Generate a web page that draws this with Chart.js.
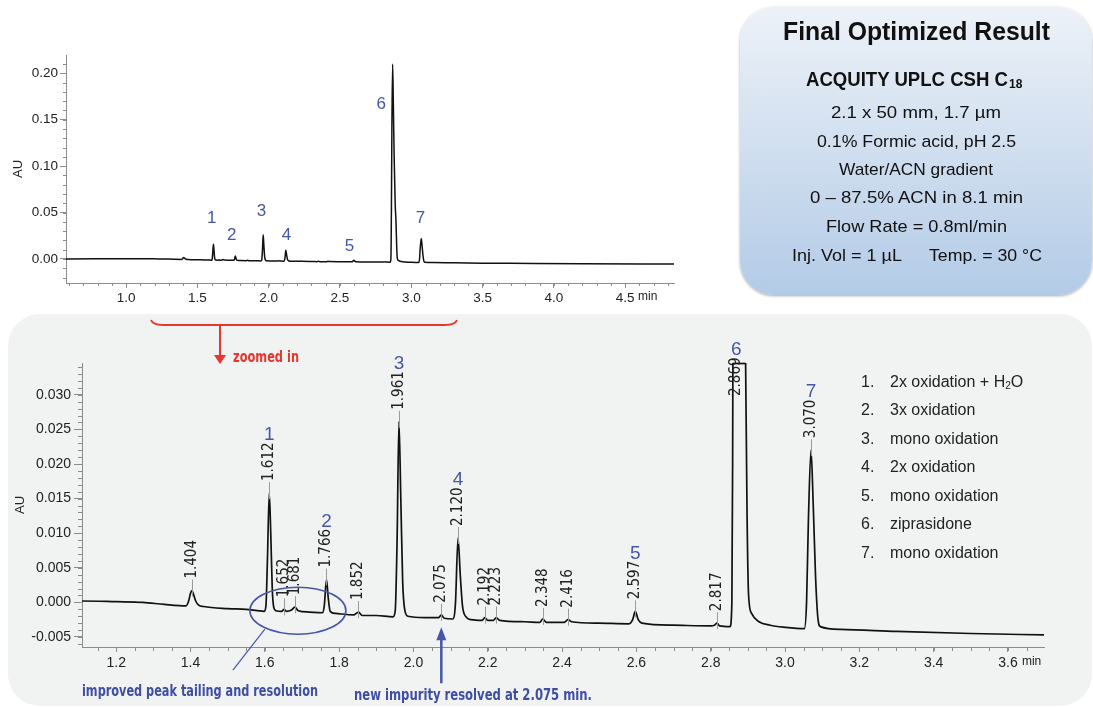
<!DOCTYPE html>
<html>
<head>
<meta charset="utf-8">
<script src="https://cdn.jsdelivr.net/npm/chart.js@4.4.1/dist/chart.umd.min.js"></script>
<style>
body { margin: 0; background: #fff; width: 1093px; height: 708px; overflow: hidden; position: relative; font-family: "Liberation Sans", Arial, sans-serif; }
#panel { position: absolute; left: 8px; top: 314px; width: 1084px; height: 392px; background: #f1f2f2; border-radius: 32px; }
#box { position: absolute; left: 740px; top: 7px; width: 352px; height: 288px; border-radius: 34px; background: linear-gradient(#edf2f8, #b3cbe7); box-shadow: 0 1px 3px rgba(0,0,0,.35); }
.wrap { position: absolute; }
#notes { position: absolute; left: 0; top: 0; }
</style>
</head>
<body>
<div id="panel"></div>
<div id="box"></div>
<div class="wrap" style="left:0;top:40px;width:690px;height:275px"><canvas id="topChart"></canvas></div>
<div class="wrap" style="left:0;top:340px;width:1093px;height:368px"><canvas id="zoomChart"></canvas></div>

<svg id="notes" width="1093" height="708">
  <!-- info box -->
  <g fill="#111" font-family="Liberation Sans, Arial, sans-serif">
    <text x="783" y="40" font-size="25" font-weight="bold" textLength="267" lengthAdjust="spacingAndGlyphs">Final Optimized Result</text>
    <text x="806" y="86" font-size="20" font-weight="bold" textLength="202" lengthAdjust="spacingAndGlyphs">ACQUITY UPLC CSH C</text>
    <text x="1009" y="88" font-size="12" font-weight="bold">18</text>
    <text x="831" y="118" font-size="17" textLength="170" lengthAdjust="spacingAndGlyphs">2.1 x 50 mm, 1.7 µm</text>
    <text x="817" y="147" font-size="17" textLength="199" lengthAdjust="spacingAndGlyphs">0.1% Formic acid, pH 2.5</text>
    <text x="839" y="175" font-size="17" textLength="154" lengthAdjust="spacingAndGlyphs">Water/ACN gradient</text>
    <text x="810" y="203" font-size="17" textLength="213" lengthAdjust="spacingAndGlyphs">0 – 87.5% ACN in 8.1 min</text>
    <text x="826" y="232" font-size="17" textLength="181" lengthAdjust="spacingAndGlyphs">Flow Rate = 0.8ml/min</text>
    <text x="792" y="261" font-size="17" textLength="110" lengthAdjust="spacingAndGlyphs">Inj. Vol = 1 µL</text>
    <text x="929" y="261" font-size="17" textLength="113" lengthAdjust="spacingAndGlyphs">Temp. = 30 °C</text>
  </g>
  <!-- zoom bracket -->
  <path d="M151,320 Q153,325 163,325 L445,325 Q455,325 457,320" fill="none" stroke="#e8352e" stroke-width="2"/>
  <line x1="220" y1="325" x2="220" y2="356" stroke="#e8352e" stroke-width="2"/>
  <polygon points="214,355 226,355 220,364" fill="#e8352e"/>
  <text x="233" y="362" fill="#e8352e" font-size="15" font-weight="bold" font-family="Liberation Sans Narrow, DejaVu Sans Condensed, sans-serif" textLength="66" lengthAdjust="spacingAndGlyphs">zoomed in</text>
  <!-- legend -->
  <g fill="#222" font-size="16" font-family="Liberation Sans, Arial, sans-serif">
    <text x="861" y="387">1.</text><text x="890" y="387">2x oxidation + H<tspan font-size="10" dy="2">2</tspan><tspan dy="-2">O</tspan></text>
    <text x="861" y="415">2.</text><text x="890" y="415">3x oxidation</text>
    <text x="861" y="444">3.</text><text x="890" y="444">mono oxidation</text>
    <text x="861" y="472">4.</text><text x="890" y="472">2x oxidation</text>
    <text x="861" y="501">5.</text><text x="890" y="501">mono oxidation</text>
    <text x="861" y="529">6.</text><text x="890" y="529">ziprasidone</text>
    <text x="861" y="558">7.</text><text x="890" y="558">mono oxidation</text>
  </g>
  <!-- notes -->
  <g fill="#3d4ea3" font-size="16" font-weight="bold" font-family="Liberation Sans Narrow, DejaVu Sans Condensed, sans-serif">
    <text x="82" y="696" textLength="236" lengthAdjust="spacingAndGlyphs">improved peak tailing and resolution</text>
    <text x="354" y="700" textLength="238" lengthAdjust="spacingAndGlyphs">new impurity resolved at 2.075 min.</text>
  </g>
</svg>

<script>
// chromatogram trace (minutes, AU)
const timeMin = [0.578, 0.80, 1.00, 1.108, 1.20, 1.272, 1.33, 1.388, 1.395, 1.400, 1.404, 1.408, 1.414, 1.422, 1.435,
  1.50, 1.55, 1.58, 1.598, 1.603, 1.607, 1.612, 1.616, 1.620, 1.624, 1.630, 1.645, 1.652, 1.658, 1.672, 1.681, 1.690,
  1.720, 1.755, 1.760, 1.766, 1.771, 1.776, 1.790, 1.840, 1.852, 1.862, 1.900, 1.945, 1.951, 1.956, 1.961, 1.966,
  1.971, 1.977, 1.985, 2.030, 2.068, 2.075, 2.083, 2.106, 2.113, 2.120, 2.126, 2.132, 2.140, 2.155, 2.185, 2.192,
  2.200, 2.215, 2.223, 2.232, 2.300, 2.340, 2.348, 2.358, 2.405, 2.416, 2.425, 2.500, 2.580, 2.590, 2.597, 2.605,
  2.615, 2.700, 2.800, 2.810, 2.817, 2.824, 2.852, 2.857, 2.859, 2.861, 2.864, 2.869, 2.874, 2.880, 2.887, 2.893,
  2.898, 2.902, 2.910, 2.930, 2.960, 3.000, 3.052, 3.058, 3.063, 3.070, 3.076, 3.082, 3.088, 3.095, 3.150, 3.300,
  3.500, 3.697, 4.200, 4.843];
const absAU = [0.0000, 0.0001, 0.0002, 0.0002, 0.0001, 0.0000, -0.0003, -0.0005, 0.0002, 0.0013, 0.0017, 0.0012, 0.0002, -0.0004, -0.0006,
  -0.0009, -0.0010, -0.0012, -0.0013, -0.0005, 0.0060, 0.0158, 0.0100, 0.0020, -0.0007, -0.0012, -0.0013, -0.0010, -0.0013, -0.0011, -0.0007, -0.0012,
  -0.0014, -0.0015, -0.0005, 0.0033, 0.0005, -0.0013, -0.0016, -0.0018, -0.0014, -0.0019, -0.0019, -0.0021, -0.0012, 0.0090, 0.0261, 0.0150,
  0.0030, -0.0012, -0.0020, -0.0022, -0.0022, -0.0018, -0.0023, -0.0024, -0.0002, 0.0093, 0.0040, -0.0005, -0.0020, -0.0025, -0.0026, -0.0022,
  -0.0026, -0.0026, -0.0022, -0.0026, -0.0028, -0.0029, -0.0024, -0.0029, -0.0029, -0.0025, -0.0028, -0.0030, -0.0031, -0.0025, -0.0013, -0.0025,
  -0.0030, -0.0033, -0.0034, -0.0033, -0.0030, -0.0034, -0.0035, 0.0000, 0.0200, 0.0600, 0.1400, 0.2100, 0.1700, 0.1100, 0.0600, 0.0400,
  0.0120, 0.0010, -0.0016, -0.0028, -0.0033, -0.0036, -0.0038, 0.0000, 0.0120, 0.0220, 0.0140, 0.0040, -0.0020, -0.0035, -0.0039, -0.0042,
  -0.0045, -0.0047, -0.0052, -0.0055];

// labelled retention times
const rtTimes = [1.404, 1.612, 1.652, 1.681, 1.766, 1.852, 1.961, 2.075, 2.120, 2.192, 2.223, 2.348, 2.416, 2.597, 2.817, 2.869, 3.070];
const peakNums = ['1', '2', '3', '4', '5', '6', '7'];
const peakTimes = [1.612, 1.766, 1.961, 2.120, 2.597, 2.869, 3.070];
// peak numbers on the full view
const topNumTime = [1.60, 1.74, 1.95, 2.125, 2.566, 2.79, 3.064];
const topNumAU = [0.044, 0.025, 0.051, 0.026, 0.014, 0.167, 0.044];

// tick labels
const topXTicks = [1.0, 1.5, 2.0, 2.5, 3.0, 3.5, 4.0, 4.5];
const topYTicks = [0.00, 0.05, 0.10, 0.15, 0.20];
const zoomXTicks = [1.2, 1.4, 1.6, 1.8, 2.0, 2.2, 2.4, 2.6, 2.8, 3.0, 3.2, 3.4, 3.6];
const zoomYTicks = [-0.005, 0.000, 0.005, 0.010, 0.015, 0.020, 0.025, 0.030];

const trace = timeMin.map(function (t, i) { return { x: t, y: absAU[i] }; });

function auAt(t) {
  let best = 0;
  timeMin.forEach(function (v, i) { if (Math.abs(v - t) < Math.abs(timeMin[best] - t)) best = i; });
  return absAU[best];
}

Chart.defaults.font.family = '"Liberation Sans", Arial, sans-serif';
Chart.defaults.color = '#222';

function linAxis(min, max, tickVals, digits, size, tickLen, pad, fit) {
  return {
    type: 'linear', min: min, max: max,
    afterBuildTicks: function (s) { s.ticks = tickVals.map(function (v) { return { value: v }; }); },
    afterFit: fit,
    ticks: { autoSkip: false, maxRotation: 0, padding: pad, color: '#222', font: { size: size },
      callback: function (v) { return Number(v).toFixed(digits); } },
    grid: { drawOnChartArea: false, tickLength: tickLen, color: '#8c8c8c' },
    border: { color: '#8c8c8c' }
  };
}

function minorTicks(chart, xs, ys, len) {
  const ctx = chart.ctx, a = chart.chartArea, x = chart.scales.x, y = chart.scales.y;
  ctx.strokeStyle = '#8c8c8c';
  ctx.lineWidth = 1;
  ctx.beginPath();
  for (let v = Math.ceil(x.min / xs) * xs; v <= x.max; v += xs) {
    const px = Math.round(x.getPixelForValue(v)) + 0.5;
    ctx.moveTo(px, a.bottom); ctx.lineTo(px, a.bottom + len);
  }
  for (let v = Math.ceil(y.min / ys) * ys; v <= y.max; v += ys) {
    const py = Math.round(y.getPixelForValue(v)) + 0.5;
    ctx.moveTo(a.left, py); ctx.lineTo(a.left - len, py);
  }
  ctx.stroke();
}

// where the trace leaves the top of the plot, draw the off-scale flat top like the instrument does
function offScaleTops(chart) {
  const ctx = chart.ctx, a = chart.chartArea, x = chart.scales.x, y = chart.scales.y;
  let up = null;
  ctx.strokeStyle = '#111';
  ctx.lineWidth = 1.7;
  for (let i = 1; i < timeMin.length; i++) {
    const y0 = absAU[i - 1], y1 = absAU[i];
    const tc = timeMin[i - 1] + (y.max - y0) / (y1 - y0) * (timeMin[i] - timeMin[i - 1]);
    if (y0 < y.max && y1 >= y.max) up = tc;
    if (y0 >= y.max && y1 < y.max && up !== null) {
      ctx.beginPath();
      ctx.moveTo(x.getPixelForValue(up), a.top + 0.5);
      ctx.lineTo(x.getPixelForValue(tc), a.top + 0.5);
      ctx.stroke();
      up = null;
    }
  }
}

const topDecor = {
  id: 'topDecor',
  afterDraw: function (chart) {
    const ctx = chart.ctx, a = chart.chartArea, x = chart.scales.x, y = chart.scales.y;
    ctx.save();
    minorTicks(chart, 0.1, 0.01, 3);
    ctx.fillStyle = '#222';
    ctx.font = '12px "Liberation Sans", Arial, sans-serif';
    ctx.textBaseline = 'middle';
    ctx.fillText('min', x.getPixelForValue(4.5) + 13, a.bottom + 14);
    ctx.fillStyle = '#4656a8';
    ctx.font = '17px "Liberation Sans", Arial, sans-serif';
    ctx.textAlign = 'center';
    topNumTime.forEach(function (t, i) {
      ctx.fillText(peakNums[i], x.getPixelForValue(t), y.getPixelForValue(topNumAU[i]));
    });
    ctx.restore();
  }
};

const zoomDecor = {
  id: 'zoomDecor',
  afterDraw: function (chart) {
    const ctx = chart.ctx, a = chart.chartArea, x = chart.scales.x, y = chart.scales.y;
    ctx.save();
    minorTicks(chart, 0.05, 0.001, 4);
    offScaleTops(chart);
    ctx.fillStyle = '#222';
    ctx.font = '12px "Liberation Sans", Arial, sans-serif';
    ctx.textBaseline = 'middle';
    ctx.fillText('min', x.getPixelForValue(3.6) + 14, a.bottom + 15);

    // retention time labels
    ctx.font = '15px "Liberation Sans Narrow", "DejaVu Sans Condensed", sans-serif';
    rtTimes.forEach(function (t) {
      const px = x.getPixelForValue(t);
      const py = y.getPixelForValue(auAt(t));
      const clipped = py < a.top;
      const ty = clipped ? a.top + 34 : py - 11;
      if (!clipped) {
        ctx.strokeStyle = '#9a9a9a';
        ctx.lineWidth = 1;
        ctx.beginPath();
        ctx.moveTo(Math.round(px) + 0.5, ty);
        ctx.lineTo(Math.round(px) + 0.5, py + 6);
        ctx.stroke();
      }
      ctx.save();
      ctx.translate(px, ty);
      ctx.rotate(-Math.PI / 2);
      ctx.textAlign = 'left';
      ctx.fillStyle = '#222';
      ctx.fillText(t.toFixed(3), 1, 0);
      ctx.restore();
    });

    // peak numbers
    ctx.fillStyle = '#4656a8';
    ctx.font = '19px "Liberation Sans", Arial, sans-serif';
    ctx.textAlign = 'center';
    peakTimes.forEach(function (t, i) {
      const py = y.getPixelForValue(auAt(t));
      ctx.fillText(peakNums[i], x.getPixelForValue(t), py < a.top ? a.top - 13 : py - 58);
    });

    // ellipse around 1.65-1.72 and the 2.075 arrow
    const cx = x.getPixelForValue(1.689), cy = y.getPixelForValue(-0.0012);
    ctx.strokeStyle = '#4656a8';
    ctx.lineWidth = 1.6;
    ctx.beginPath();
    ctx.ellipse(cx, cy, 48, 23.5, 0, 0, Math.PI * 2);
    ctx.stroke();
    ctx.lineWidth = 1.2;
    ctx.beginPath();
    ctx.moveTo(cx - 33, cy + 18.5);
    ctx.lineTo(cx - 65, cy + 59.5);
    ctx.stroke();

    const ax = x.getPixelForValue(2.075), tip = y.getPixelForValue(-0.0036);
    ctx.lineWidth = 2.5;
    ctx.beginPath();
    ctx.moveTo(ax, tip + 10);
    ctx.lineTo(ax, tip + 56);
    ctx.stroke();
    ctx.fillStyle = '#4656a8';
    ctx.beginPath();
    ctx.moveTo(ax, tip);
    ctx.lineTo(ax - 5, tip + 13);
    ctx.lineTo(ax + 5, tip + 13);
    ctx.closePath();
    ctx.fill();
    ctx.restore();
  }
};

new Chart(document.getElementById('topChart'), {
  type: 'line',
  data: { datasets: [{ data: trace, borderColor: '#111', borderWidth: 1.5, pointRadius: 0, cubicInterpolationMode: 'monotone' }] },
  options: {
    responsive: true, maintainAspectRatio: false, animation: false,
    layout: { padding: { top: 15, right: 16, left: 0, bottom: 0 } },
    plugins: { legend: { display: false }, tooltip: { enabled: false } },
    scales: {
      x: linAxis(0.578, 4.843, topXTicks, 1, 13.5, 5, 2, function (s) { s.height = 32; }),
      y: Object.assign(linAxis(-0.0259, 0.2197, topYTicks, 2, 13.5, 6, 2, function (s) { s.width = 66; }),
        { title: { display: true, text: 'AU', color: '#222', font: { size: 13 }, padding: { top: 11, bottom: 0 } } })
    }
  },
  plugins: [topDecor]
});

new Chart(document.getElementById('zoomChart'), {
  type: 'line',
  data: { datasets: [{ data: trace, borderColor: '#111', borderWidth: 1.7, pointRadius: 0, cubicInterpolationMode: 'monotone' }] },
  options: {
    responsive: true, maintainAspectRatio: false, animation: false,
    layout: { padding: { top: 23, right: 49, left: 0, bottom: 0 } },
    plugins: { legend: { display: false }, tooltip: { enabled: false } },
    scales: {
      x: linAxis(1.108, 3.697, zoomXTicks, 1, 14, 5, 3, function (s) { s.height = 61; }),
      y: Object.assign(linAxis(-0.00645, 0.0346, zoomYTicks, 3, 14, 8, 3, function (s) { s.width = 82; }),
        { title: { display: true, text: 'AU', color: '#222', font: { size: 13 }, padding: { top: 13, bottom: 0 } } })
    }
  },
  plugins: [zoomDecor]
});
</script>
</body>
</html>
